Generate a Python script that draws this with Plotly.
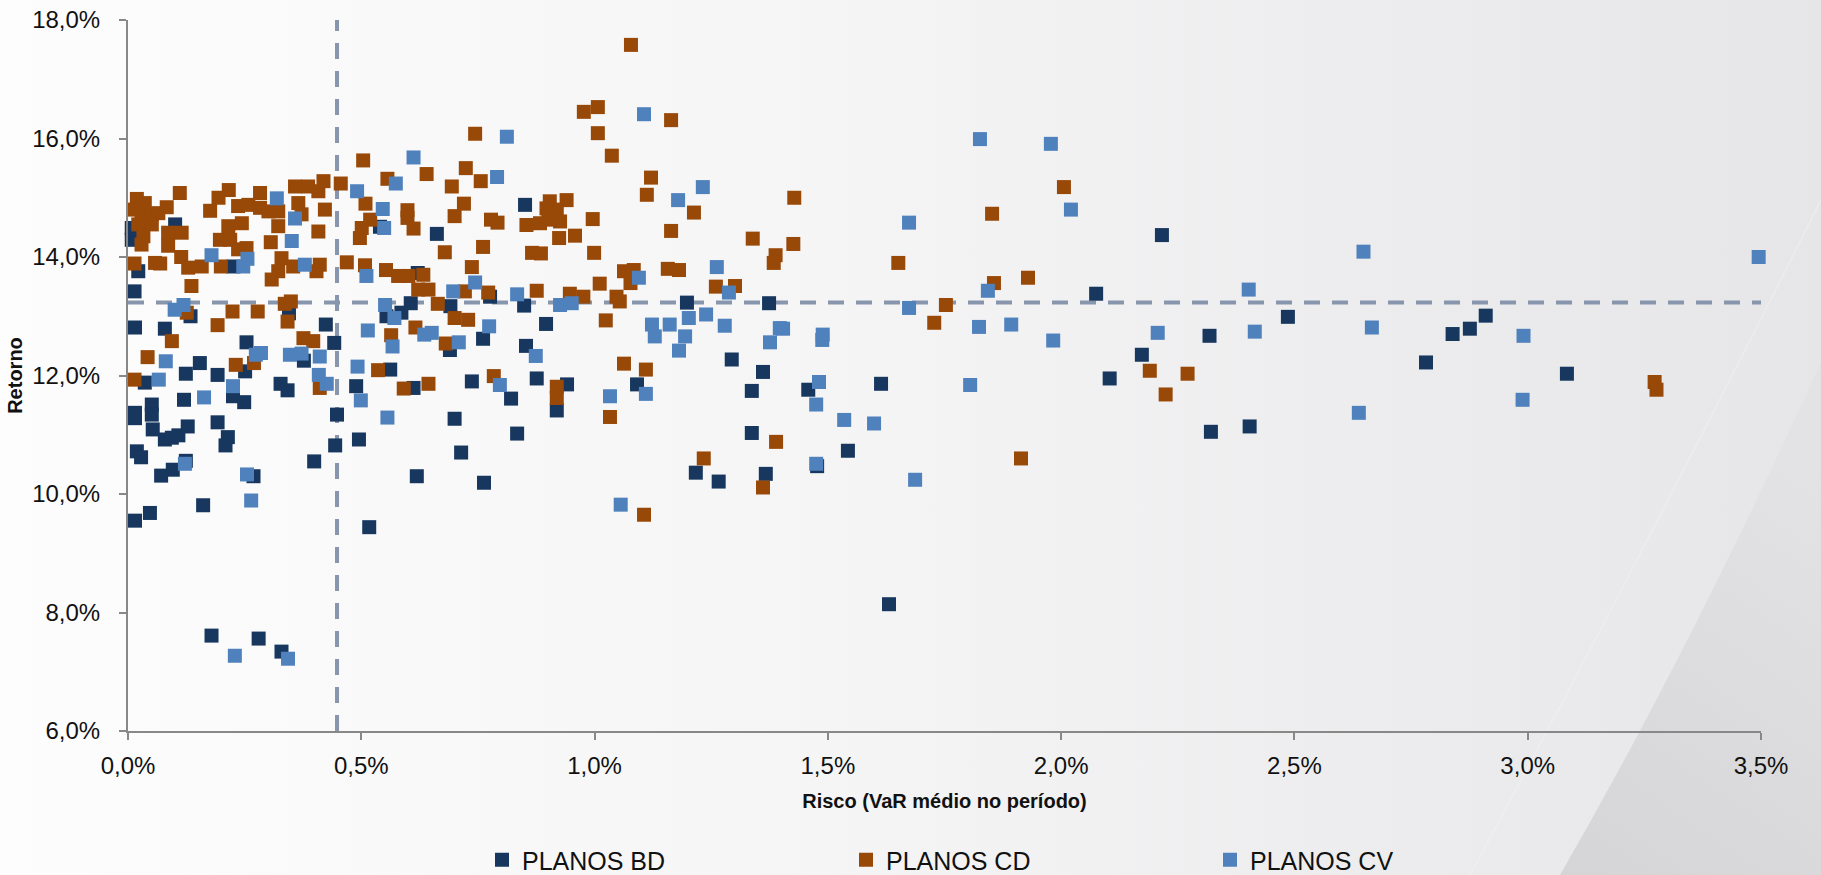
import base64
import plotly.graph_objects as go

# ---------------- data (percent units) ----------------
bd_risco = [0.101, 0.008, 0.008, 0.022, 0.014, 0.226, 0.662, 0.540, 0.621,
            0.134, 0.345, 0.015, 0.079, 0.424, 0.254, 0.442, 0.554, 0.586, 0.606,
            0.691, 0.690, 0.154, 0.124, 0.251, 0.377, 0.327, 0.342, 0.192, 0.225,
            0.249, 0.120, 0.036, 0.015, 0.015, 0.051, 0.051, 0.053, 0.079, 0.094,
            0.108, 0.128, 0.192, 0.214, 0.209, 0.019, 0.028, 0.124, 0.096, 0.071,
            0.269, 0.161, 0.047, 0.015, 0.399, 0.448, 0.444, 0.489, 0.495, 0.517,
            0.562, 0.612, 0.619, 0.700,
            0.179, 0.280, 0.329,
            0.851, 0.776,
            0.849, 1.198, 1.374, 0.761, 0.896, 0.853, 1.294, 1.361, 1.337, 1.091,
            0.737, 0.876, 0.821, 0.941, 0.919, 0.834, 0.714, 0.763, 1.337, 1.217,
            1.266, 1.367,
            2.075,
            1.458, 1.614, 1.543, 1.477, 1.631,
            2.216, 2.486, 2.318, 2.173, 2.104, 2.321, 2.404,
            2.782, 2.839, 2.876, 2.910, 3.084]
bd_retorno = [14.55, 14.49, 14.29, 13.76, 13.42, 13.84, 14.39, 14.51, 13.73,
              13.00, 13.05, 12.81, 12.79, 12.86, 12.56, 12.55, 13.00, 13.06, 13.22,
              13.17, 12.43, 12.21, 12.03, 12.07, 12.25, 11.86, 11.75, 12.01, 11.65,
              11.55, 11.59, 11.88, 11.37, 11.28, 11.51, 11.34, 11.09, 10.92, 10.95,
              10.99, 11.14, 11.21, 10.96, 10.82, 10.72, 10.62, 10.56, 10.41, 10.31,
              10.30, 9.81, 9.68, 9.55, 10.55, 11.34, 10.82, 11.82, 10.92, 9.44,
              12.10, 11.79, 10.30, 11.27,
              7.61, 7.56, 7.34,
              14.88, 13.33,
              13.18, 13.23, 13.22, 12.62, 12.87, 12.50, 12.27, 12.06, 11.74, 11.85,
              11.90, 11.95, 11.61, 11.85, 11.41, 11.02, 10.70, 10.19, 11.03, 10.36,
              10.21, 10.34,
              13.38,
              11.76, 11.86, 10.73, 10.47, 8.14,
              14.37, 12.99, 12.67, 12.35, 11.95, 11.05, 11.14,
              12.22, 12.70, 12.79, 13.01, 12.03]

cd_risco = [0.019, 0.036, 0.015, 0.029, 0.051, 0.065, 0.083, 0.022, 0.051, 0.033,
            0.029, 0.086, 0.115, 0.086, 0.111, 0.014, 0.058, 0.069, 0.114, 0.136,
            0.129, 0.158,
            0.176, 0.194, 0.216, 0.236, 0.258, 0.283, 0.283, 0.301, 0.322, 0.322,
            0.358, 0.386, 0.365, 0.372, 0.408, 0.419, 0.422, 0.408, 0.215, 0.244,
            0.197, 0.219, 0.236, 0.254, 0.306, 0.329, 0.322, 0.308, 0.354, 0.411,
            0.404, 0.199,
            0.456, 0.504, 0.556, 0.640, 0.694, 0.469, 0.508, 0.497, 0.501, 0.519,
            0.509, 0.599, 0.599, 0.612, 0.553, 0.579, 0.601, 0.633, 0.622, 0.644,
            0.679, 0.700,
            0.126, 0.224, 0.278, 0.336, 0.349, 0.342, 0.192, 0.094, 0.376, 0.397,
            0.664, 0.700, 0.616, 0.564, 0.681, 0.042, 0.231, 0.270, 0.411, 0.014,
            0.536, 0.591, 0.644,
            1.078, 0.977, 1.007, 1.164, 0.744, 1.007, 1.037, 0.724, 0.756, 1.121,
            1.112, 1.213, 0.720, 0.778, 0.792, 0.904, 0.940, 0.919, 0.897, 0.854,
            0.883, 0.926, 0.901, 0.924, 0.958, 0.996, 1.164, 1.339, 0.761, 0.866,
            0.885, 0.999, 1.388, 1.384, 0.737, 1.063, 1.084, 1.077, 1.157, 1.181,
            1.260, 1.301, 1.011, 0.876, 0.722, 0.772, 0.947, 0.976, 1.047,
            1.054, 0.729, 1.024, 1.063, 1.110, 1.033, 0.784, 0.919, 0.919, 1.106,
            1.389, 1.234, 1.361,
            2.006, 1.852, 1.428, 1.426, 1.651, 1.856, 1.929,
            1.753, 1.728, 1.914,
            2.190, 2.271, 2.224,
            3.272, 3.276]
cd_retorno = [14.98, 14.91, 14.80, 14.72, 14.72, 14.74, 14.84, 14.55, 14.55, 14.35,
              14.21, 14.41, 14.41, 14.19, 15.08, 13.89, 13.90, 13.89, 14.00, 13.51,
              13.82, 13.84,
              14.78, 15.00, 15.13, 14.86, 14.88, 15.08, 14.83, 14.77, 14.77, 14.52,
              15.19, 15.19, 14.91, 14.72, 15.11, 15.28, 14.80, 14.43, 14.52, 14.57,
              14.29, 14.29, 14.13, 14.15, 14.25, 13.98, 13.76, 13.62, 13.84, 13.87,
              13.76, 13.84,
              15.24, 15.63, 15.32, 15.40, 15.19, 13.91, 13.86, 14.32, 14.49, 14.63,
              14.90, 14.79, 14.66, 14.48, 13.78, 13.68, 13.68, 13.70, 13.45, 13.45,
              14.08, 14.69,
              13.06, 13.08, 13.08, 13.21, 13.25, 12.91, 12.85, 12.58, 12.63, 12.58,
              13.21, 12.97, 12.81, 12.68, 12.54, 12.31, 12.18, 12.21, 11.79, 11.93,
              12.09, 11.78, 11.86,
              17.58, 16.45, 16.53, 16.31, 16.08, 16.09, 15.71, 15.50, 15.28, 15.34,
              15.05, 14.75, 14.90, 14.63, 14.58, 14.94, 14.96, 14.80, 14.82, 14.54,
              14.57, 14.60, 14.63, 14.32, 14.36, 14.64, 14.44, 14.31, 14.17, 14.07,
              14.06, 14.07, 14.03, 13.90, 13.83, 13.76, 13.78, 13.56, 13.80, 13.78,
              13.50, 13.51, 13.55, 13.43, 13.42, 13.40, 13.38, 13.33, 13.33,
              13.25, 12.94, 12.93, 12.20, 12.10, 11.30, 11.99, 11.81, 11.62, 9.65,
              10.88, 10.60, 10.11,
              15.18, 14.73, 15.00, 14.22, 13.90, 13.56, 13.65,
              13.19, 12.89, 10.60,
              12.08, 12.03, 11.68,
              11.89, 11.76]

cv_risco = [0.179, 0.256, 0.247, 0.319, 0.358, 0.351, 0.379, 0.612, 0.574, 0.491,
            0.546, 0.549, 0.511, 0.697,
            0.100, 0.119, 0.551, 0.571, 0.514, 0.635, 0.651, 0.567, 0.081, 0.274,
            0.285, 0.347, 0.372, 0.411, 0.409, 0.426, 0.225, 0.163, 0.066, 0.122,
            0.255, 0.264, 0.492, 0.499, 0.556,
            0.229, 0.343,
            1.106, 0.812, 0.791, 1.179, 1.232, 1.095, 1.262, 1.288, 0.744, 0.834,
            0.926, 0.951, 0.774, 0.709, 0.874, 1.123, 1.129, 1.161, 1.202, 1.239,
            1.194, 1.181, 1.279, 1.376, 1.397, 1.110, 1.033, 0.797, 1.056,
            1.826, 1.978, 2.021, 1.674, 1.843,
            1.674, 1.404, 1.489, 1.488, 1.824, 1.893, 1.983, 1.481, 1.475, 1.805,
            1.535, 1.599, 1.475, 1.687,
            2.648, 2.402, 2.207, 2.415, 2.666, 2.638,
            3.495, 2.991, 2.989]
cv_retorno = [14.03, 13.97, 13.84, 14.99, 14.65, 14.27, 13.87, 15.68, 15.24, 15.11,
              14.81, 14.49, 13.68, 13.42,
              13.11, 13.19, 13.19, 12.97, 12.76, 12.69, 12.72, 12.49, 12.24, 12.35,
              12.38, 12.35, 12.37, 12.32, 12.01, 11.86, 11.82, 11.63, 11.93, 10.51,
              10.33, 9.89, 12.15, 11.58, 11.29,
              7.27, 7.22,
              16.41, 16.03, 15.35, 14.96, 15.18, 13.65, 13.83, 13.40, 13.57, 13.37,
              13.19, 13.22, 12.83, 12.56, 12.33, 12.86, 12.66, 12.86, 12.97, 13.03,
              12.66, 12.42, 12.84, 12.56, 12.80, 11.69, 11.65, 11.84, 9.82,
              15.99, 15.91, 14.80, 14.58, 13.43,
              13.14, 12.79, 12.69, 12.60, 12.82, 12.86, 12.59, 11.89, 11.51, 11.84,
              11.25, 11.19, 10.51, 10.24,
              14.09, 13.45, 12.72, 12.74, 12.81, 11.37,
              14.00, 12.67, 11.59]

series_names = ["PLANOS BD", "PLANOS CD", "PLANOS CV"]
var_medio = 0.448        # vertical reference (mean VaR)
retorno_medio = 13.23    # horizontal reference (mean return)
x_range = [0, 3.5]
y_range = [6, 18]

# ---------------- layout constants ----------------
W, H = 1821, 875
ML, MR, MT, MB = 128, 60, 20, 144
PW, PH = W - ML - MR, H - MT - MB
FONT = "Liberation Sans, Arial, Helvetica, sans-serif"
colors = ["#17375E", "#984807", "#4F81BD"]

svg = f"""<svg xmlns='http://www.w3.org/2000/svg' width='{W}' height='{H}' viewBox='0 0 {W} {H}' preserveAspectRatio='none'>
<defs>
<linearGradient id='g' x1='0' y1='0' x2='1' y2='0'>
<stop offset='0' stop-color='#FDFDFD'/><stop offset='0.45' stop-color='#F5F5F6'/><stop offset='1' stop-color='#E6E6E8'/>
</linearGradient>
<linearGradient id='s' x1='0' y1='1' x2='0.35' y2='0'>
<stop offset='0' stop-color='#D5D5D7'/><stop offset='1' stop-color='#E3E3E5'/>
</linearGradient>
</defs>
<rect x='0' y='0' width='{W}' height='{H}' fill='url(#g)'/>
<path d='M1560,875 Q1690,650 1821,362 L1821,875 Z' fill='url(#s)'/>
<path d='M1470,875 Q1640,560 1821,200' fill='none' stroke='#F4F4F5' stroke-width='2' opacity='0.35'/>
</svg>"""
src = "data:image/svg+xml;base64," + base64.b64encode(svg.encode()).decode()

fig = go.Figure()
for name, xs, ys, c in zip(series_names,
                           [bd_risco, cd_risco, cv_risco],
                           [bd_retorno, cd_retorno, cv_retorno],
                           colors):
    fig.add_trace(go.Scatter(x=xs, y=ys, mode="markers", name=name,
                             cliponaxis=False,
                             marker=dict(symbol="square", size=14, color=c,
                                         line=dict(width=0))))

line_style = dict(color="#8796AD", width=4, dash="16px,12px")
fig.add_shape(type="line", xref="x", yref="y", x0=var_medio, x1=var_medio,
              y0=y_range[0], y1=y_range[1], line=line_style, layer="below")
fig.add_shape(type="line", xref="x", yref="y", x0=x_range[0], x1=x_range[1],
              y0=retorno_medio, y1=retorno_medio, line=line_style, layer="below")

fig.add_layout_image(source=src, xref="paper", yref="paper",
                     x=-ML / PW, y=1 + MT / PH, sizex=W / PW, sizey=H / PH,
                     xanchor="left", yanchor="top", sizing="stretch",
                     layer="below")

axis_common = dict(showgrid=False, zeroline=False, showline=True,
                   linecolor="#888888", linewidth=2, ticks="outside",
                   ticklen=7, tickwidth=2, tickcolor="#888888",
                   tickformat=".1f", ticksuffix="%",
                   tickfont=dict(family=FONT, size=24, color="#111111"))

fig.update_layout(
    width=W, height=H,
    margin=dict(l=ML, r=MR, t=MT, b=MB, autoexpand=False),
    paper_bgcolor="#FFFFFF", plot_bgcolor="rgba(0,0,0,0)",
    separators=",.",
    font=dict(family=FONT, color="#111111"),
    xaxis=dict(range=x_range, tick0=0, dtick=0.5, ticklabelstandoff=5,
               title=dict(text="<b>Risco (VaR médio no período)</b>",
                          font=dict(family=FONT, size=20, color="#111111"),
                          standoff=16),
               **axis_common),
    yaxis=dict(range=y_range, tick0=6, dtick=2, ticklabelstandoff=14,
               title=dict(text="<b>Retorno</b>",
                          font=dict(family=FONT, size=20, color="#111111"),
                          standoff=4),
               **axis_common),
    showlegend=True,
    legend=dict(orientation="h", x=(482 - ML) / PW, xanchor="left",
                y=-(860 - (H - MB)) / PH, yanchor="middle",
                entrywidth=319, entrywidthmode="pixels",
                font=dict(family=FONT, size=25, color="#111111"),
                bgcolor="rgba(0,0,0,0)", itemsizing="trace"),
)

fig.write_html("out.html",
               config={"displayModeBar": False},
               post_script="document.body.style.margin='0px';"
                           "document.body.style.overflow='hidden';")
